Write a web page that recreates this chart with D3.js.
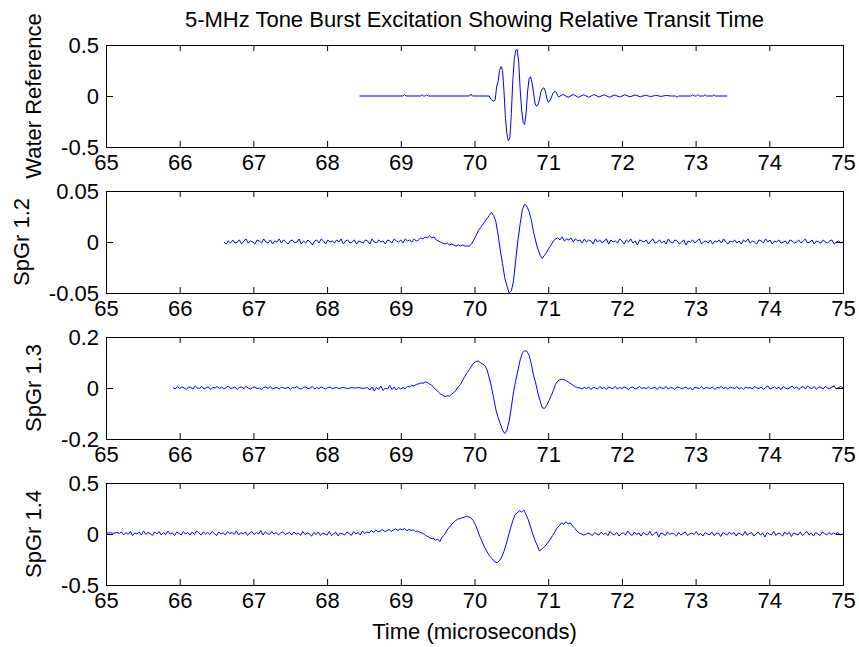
<!DOCTYPE html>
<html lang="en">
  <head>
    <meta charset="UTF-8" />
    <script src="https://d3js.org/d3.v7.min.js"></script>
    <title>5-MHz Tone Burst Excitation Showing Relative Transit Time</title>
    <style type="text/css">
      body { margin: 0; background: #fff; }
      svg { font-family: 'Liberation Sans', Arial, sans-serif; }
    </style>
  </head>
  <body>
    <svg width="859" height="647"></svg>
  </body>
  <script type="text/javascript">
    // ---- data ----
    const chartTitle = '5-MHz Tone Burst Excitation Showing Relative Transit Time';
    const timeLabel = 'Time (microseconds)';
    const timeTicks = [65, 66, 67, 68, 69, 70, 71, 72, 73, 74, 75];
    const panelNames = ['Water Reference', 'SpGr 1.2', 'SpGr 1.3', 'SpGr 1.4'];

    const waterTicks = [-0.5, 0, 0.5];
    const spgr12Ticks = [-0.05, 0, 0.05];
    const spgr13Ticks = [-0.2, 0, 0.2];
    const spgr14Ticks = [-0.5, 0, 0.5];

    // water reference: sparse points, flat apart from the burst
    const waterTime = [
      68.44, 69.03, 69.05, 69.07, 69.27, 69.29, 69.31, 69.33, 69.35, 69.37, 69.93, 69.95, 69.97, 70.20,
      70.22, 70.24, 70.26, 70.28, 70.30, 70.32, 70.34, 70.36, 70.38, 70.40,
      70.42, 70.44, 70.46, 70.48, 70.50, 70.52, 70.54, 70.56, 70.58, 70.60,
      70.62, 70.64, 70.66, 70.68, 70.70, 70.72, 70.74, 70.76, 70.78, 70.80,
      70.82, 70.84, 70.86, 70.88, 70.90, 70.92, 70.94, 70.96, 70.98, 71.00,
      71.02, 71.04, 71.06, 71.08, 71.10, 71.12, 71.14,
      71.20, 71.27, 71.34, 71.41, 71.48, 71.55, 71.62, 71.69, 71.76, 71.83, 71.90, 71.97,
      72.04, 72.11, 72.18, 72.25, 72.32, 72.39, 72.46, 72.53, 72.60, 72.67, 72.73, 72.75, 72.77,
      72.94, 72.96, 72.98, 73.01, 73.03, 73.05, 73.11, 73.13, 73.15, 73.23, 73.25, 73.27, 73.43
    ];
    const waterValue = [
      0, 0, 0.015, 0, 0, 0.012, 0, 0, 0.012, 0, 0, 0.02, 0, 0,
      -0.03, -0.045, -0.05, -0.04, 0.09, 0.14, 0.25, 0.29, 0.25, 0.05,
      -0.22, -0.37, -0.44, -0.41, -0.17, 0.15, 0.36, 0.45, 0.455, 0.33,
      0.06, -0.14, -0.26, -0.28, -0.17, 0.04, 0.17, 0.19, 0.13, 0.04,
      -0.07, -0.1, -0.09, -0.04, 0.04, 0.07, 0.08, 0.05, -0.02, -0.06,
      -0.05, -0.02, 0.02, 0.04, 0.045, 0.02, -0.01,
      0.015, -0.012, 0.015, -0.013, 0.012, -0.012, 0.014, -0.01, 0.012, -0.012, 0.01, -0.01,
      0.012, -0.008, 0.01, -0.008, 0.008, -0.006, 0.006, -0.004, 0.005, 0, 0, -0.012, 0,
      0, 0.012, 0, 0, 0.014, 0, 0, 0.012, 0, 0, 0.012, 0, 0
    ];

    // SpGr 1.2: uniform samples from 66.60 us
    const spgr12Start = 66.6;
    const spgr12Step = 0.03;
    const spgr12Value = [
      0.000, -0.002, 0.001, -0.001, 0.002, -0.001, 0.000, 0.002, -0.002, 0.001,
      0.003, -0.001, 0.001, 0.000, -0.002, 0.002, 0.001, -0.001, 0.003, 0.000,
      -0.001, 0.002, -0.002, 0.001, 0.000, 0.003, -0.001, 0.002, 0.000, -0.002,
      0.001, 0.002, -0.001, 0.000, 0.003, -0.002, 0.001, -0.001, 0.002, 0.000,
      -0.003, 0.001, 0.002, -0.001, 0.003, 0.001, -0.002, 0.002, 0.000, 0.001,
      -0.001, 0.002, 0.000, 0.003, -0.002, 0.001, 0.002, -0.001, 0.000, 0.002,
      -0.002, 0.001, 0.000, -0.001, 0.002, 0.001, -0.002, 0.003, 0.000, -0.001,
      0.002, 0.000, 0.001, -0.002, 0.002, 0.001, -0.001, 0.003, 0.001, 0.000,
      0.002, -0.001, 0.003, 0.001, 0.002, 0.000, 0.003, 0.001, 0.002, 0.004,
      0.003, 0.005, 0.004, 0.006, 0.004, 0.005, 0.002, 0.001, 0.000, -0.001,
      -0.002, -0.001, -0.003, -0.002, -0.003, -0.004, -0.003, -0.004, -0.003, -0.004,
      -0.004, -0.004, -0.002, 0.002, 0.006, 0.011, 0.014, 0.017, 0.020, 0.023,
      0.026, 0.029, 0.026, 0.020, 0.007, -0.008, -0.021, -0.035, -0.043, -0.050,
      -0.048, -0.038, -0.017, 0.002, 0.018, 0.032, 0.037, 0.035, 0.030, 0.022,
      0.010, 0.001, -0.007, -0.013, -0.016, -0.013, -0.010, -0.006, -0.003, 0.001,
      0.003,
      0.004, 0.002, 0.005, 0.001, 0.003, 0.002, 0.004, 0.000, 0.003, 0.001,
      0.002, -0.001, 0.003, 0.000, 0.002, 0.001, -0.002, 0.003, 0.000, 0.002,
      -0.001, 0.001, 0.003, -0.002, 0.002, 0.000, 0.001, -0.001, 0.003, 0.001,
      -0.002, 0.002, 0.000, 0.003, -0.001, 0.001, -0.003, 0.002, 0.001, 0.000,
      0.002, -0.002, 0.001, 0.003, -0.001, 0.000, 0.002, -0.001, 0.001, -0.002,
      0.003, 0.000, -0.001, 0.002, 0.001, -0.002, 0.000, 0.002, -0.003, 0.001,
      0.000, 0.002, -0.001, 0.001, 0.003, -0.002, 0.000, 0.001, -0.001, 0.002,
      -0.002, 0.001, 0.000, 0.002, -0.001, 0.003, 0.000, -0.002, 0.001, 0.000,
      0.002, -0.001, 0.001, -0.002, 0.002, 0.000, 0.003, -0.001, 0.001, 0.000,
      -0.002, 0.002, 0.001, -0.001, 0.003, 0.000, 0.002, -0.002, 0.001, 0.000,
      0.002, -0.001, 0.000, 0.001, -0.002, 0.002, 0.001, -0.001, 0.000, 0.002,
      -0.001, 0.001, 0.003, -0.001, 0.000, 0.002, -0.002, 0.001, 0.000, -0.001,
      0.002, 0.000, -0.001, 0.001, 0.002, -0.002, 0.000, 0.001, -0.001, 0.000
    ];

    // SpGr 1.3: uniform samples from 65.91 us
    const spgr13Start = 65.91;
    const spgr13Step = 0.03;
    const spgr13Value = [
      0.002, -0.004, 0.006, -0.002, 0.004, 0.000, -0.006, 0.004, 0.002, -0.004,
      0.008, 0.000, -0.002, 0.006, -0.004, 0.002, 0.004, -0.006, 0.002, 0.000,
      0.006, -0.002, 0.004, -0.004, 0.002, 0.008, -0.002, 0.000, 0.004, -0.006,
      0.002, 0.004, -0.002, 0.006, 0.000, -0.004, 0.002, 0.004, -0.002, 0.000,
      -0.006, 0.002, 0.004, -0.002, 0.006, -0.004, 0.000, 0.002, -0.004, 0.004,
      0.000, -0.002, 0.004, -0.006, 0.002, 0.000, 0.006, -0.002, -0.004, 0.002,
      0.004, -0.002, 0.000, 0.006, -0.004, 0.002, -0.002, 0.004, 0.000, -0.004,
      0.002, 0.004, -0.002, 0.000, 0.002, -0.002,
      0.000, 0.002, 0.000, -0.002, 0.000, 0.002, 0.000, 0.000, 0.002, 0.000, -0.002, 0.000, 0.002,
      -0.008, 0.004, -0.012, 0.002, -0.006, 0.008, -0.010, 0.000, -0.004, 0.010, -0.006, 0.004, -0.008, 0.002,
      -0.004, 0.002, -0.003, 0.006, 0.004, 0.010, 0.008, 0.014, 0.016, 0.020,
      0.018, 0.024, 0.022, 0.016, 0.010, 0.002, -0.008, -0.016, -0.024, -0.028,
      -0.034, -0.030, -0.032, -0.024, -0.018, -0.008, 0.004, 0.014, 0.030, 0.046,
      0.060, 0.072, 0.086, 0.098, 0.104, 0.106, 0.100, 0.094, 0.088, 0.072,
      0.040, 0.005, -0.040, -0.085, -0.115, -0.140, -0.165, -0.178, -0.165, -0.130,
      -0.075, -0.015, 0.030, 0.070, 0.110, 0.138, 0.146, 0.144, 0.130, 0.095,
      0.050, 0.020, -0.020, -0.050, -0.078, -0.080, -0.068, -0.050, -0.030, -0.010,
      0.015, 0.028, 0.032, 0.034, 0.032, 0.028, 0.022, 0.016, 0.010, 0.004,
      0.002,
      0.000, -0.004, 0.002, -0.002, 0.004, -0.006, 0.002, 0.000, -0.004, 0.006,
      -0.002, 0.002, -0.006, 0.004, 0.000, -0.002, 0.006, -0.004, 0.002, -0.002,
      0.004, 0.000, -0.006, 0.002, 0.004, -0.004, 0.000, 0.006, -0.002, 0.002,
      -0.004, 0.004, -0.002, 0.000, 0.002, -0.006, 0.004, 0.000, -0.002, 0.006,
      -0.004, 0.002, 0.000, -0.006, 0.004, 0.002, -0.002, 0.000, 0.004, -0.004,
      0.002, -0.008, 0.004, 0.000, -0.002, 0.006, -0.004, 0.002, 0.000, -0.002,
      0.004, -0.006, 0.002, 0.000, 0.006, -0.002, 0.002, -0.004, 0.004, 0.000,
      -0.002, 0.006, -0.004, 0.002, -0.006, 0.004, 0.000, 0.002, -0.004, 0.006,
      0.000, -0.002, 0.004, -0.006, 0.002, 0.008, -0.004, 0.000, 0.004, -0.002,
      0.002, -0.006, 0.006, 0.000, -0.004, 0.002, 0.008, -0.002, 0.004, -0.006,
      0.002, 0.006, -0.004, 0.008, 0.000, -0.002, 0.006, -0.006, 0.004, 0.002,
      -0.004, 0.006, 0.000, -0.002, 0.004, 0.008, -0.004, 0.002, 0.006, 0.000
    ];

    // SpGr 1.4: uniform samples from 65.00 us
    const spgr14Start = 65.0;
    const spgr14Step = 0.03;
    const spgr14Value = [
      0.010, 0.010, 0.012, 0.008, 0.010, 0.015, 0.005, 0.020, -0.010, 0.015,
      -0.005, 0.025, -0.015, 0.010, 0.000, 0.020, -0.010, 0.030, -0.005, 0.015,
      0.005, -0.015, 0.020, 0.000, 0.025, -0.010, 0.015, -0.005, 0.030, 0.000,
      0.010, -0.015, 0.020, 0.005, -0.010, 0.025, 0.000, 0.015, -0.010, 0.020,
      -0.005, 0.030, 0.010, -0.010, 0.020, 0.000, 0.015, -0.005, 0.025, 0.005,
      -0.015, 0.020, 0.000, 0.010, -0.010, 0.025, 0.005, 0.015, -0.005, 0.030,
      -0.010, 0.015, 0.000, 0.020, -0.015, 0.010, 0.025, -0.005, 0.015, 0.000,
      0.035, -0.010, 0.020, 0.005, -0.005, 0.025, 0.000, 0.015, -0.010, 0.010,
      0.020, -0.005, 0.005, 0.015, -0.010, 0.020, 0.000, 0.010, -0.015, 0.025,
      -0.005, 0.010, 0.000, -0.020, 0.015, -0.005, 0.020, -0.015, 0.010, 0.000,
      -0.010, 0.025, -0.015, 0.005, 0.015, -0.020, 0.010, 0.000, -0.010, 0.020,
      0.005, -0.015, 0.025, 0.000, 0.015, -0.010, 0.030, 0.005, 0.020, 0.010,
      0.035, 0.015, 0.040, 0.020, 0.030, 0.045, 0.025,
      0.030, 0.045, 0.025, 0.040, 0.050, 0.035, 0.050, 0.040, 0.055, 0.030,
      0.045, 0.035, 0.040, 0.025, 0.030, 0.015, 0.010, -0.005, -0.020, -0.030,
      -0.045, -0.040, -0.060, -0.050, -0.075, -0.030, -0.010, 0.030, 0.060, 0.085,
      0.110, 0.130, 0.145, 0.150, 0.160, 0.165, 0.172, 0.168, 0.160, 0.135,
      0.095, 0.040, -0.020, -0.070, -0.120, -0.160, -0.200, -0.230, -0.250, -0.275,
      -0.280, -0.260, -0.225, -0.170, -0.100, -0.020, 0.060, 0.130, 0.190, 0.205,
      0.230, 0.215, 0.235, 0.190, 0.140, 0.070, 0.000, -0.060, -0.110, -0.165,
      -0.150, -0.130, -0.110, -0.080, -0.050, -0.015, 0.020, 0.060, 0.080, 0.110,
      0.095, 0.120, 0.100, 0.110, 0.080, 0.055, 0.030, 0.010, 0.000, -0.010,
      -0.005, 0.010, 0.000, -0.015, 0.015, 0.000, -0.010, 0.020, -0.005, 0.010,
      -0.015, 0.025, 0.000, -0.010, 0.015, -0.020, 0.005, 0.010, -0.010, 0.030,
      0.000, -0.015, 0.020, -0.005, 0.010, -0.020, 0.015, 0.000, -0.010, 0.025,
      -0.015, 0.005, 0.020, -0.030, 0.010, 0.000, -0.015, 0.020, -0.005, 0.010,
      0.000, -0.020, 0.015, -0.010, 0.005, 0.020, -0.015, 0.000, 0.010, -0.005,
      0.025, -0.010, 0.005, -0.020, 0.015, 0.000, -0.010, 0.020, -0.015, 0.005,
      0.010, -0.025, 0.015, 0.000, -0.010, 0.020, -0.005, 0.015, -0.020, 0.010,
      0.000, -0.015, 0.025, -0.010, 0.005, 0.015, -0.020, 0.000, 0.020, -0.010,
      0.010, -0.030, 0.015, 0.000, -0.010, 0.025, -0.015, 0.010, 0.000, -0.020,
      0.020, -0.005, 0.015, -0.025, 0.010, 0.000, -0.010, 0.020, -0.015, 0.005,
      0.025, -0.010, 0.010, -0.020, 0.015, 0.000, -0.015, 0.020, 0.005, -0.010,
      0.015, -0.005, 0.010, 0.000, 0.015, -0.010, 0.005
    ];

    //---

    const sampleTimes = (start, step, values) => values.map((_, i) => start + i * step);

    const panels = [
      { name: panelNames[0], ticks: waterTicks, time: waterTime, value: waterValue },
      { name: panelNames[1], ticks: spgr12Ticks, time: sampleTimes(spgr12Start, spgr12Step, spgr12Value), value: spgr12Value },
      { name: panelNames[2], ticks: spgr13Ticks, time: sampleTimes(spgr13Start, spgr13Step, spgr13Value), value: spgr13Value },
      { name: panelNames[3], ticks: spgr14Ticks, time: sampleTimes(spgr14Start, spgr14Step, spgr14Value), value: spgr14Value },
    ];

    // setup svg canvas
    const svg = d3.select('svg');
    const fontSize = 22;
    const left = 106;
    const right = 843;
    const firstTop = 45;
    const pitch = 146;
    const panelHeight = 102;

    const xScale = d3.scaleLinear().domain(d3.extent(timeTicks)).range([left, right]);

    const styleAxis = (sel) => {
      sel.attr('font-size', fontSize).attr('font-family', null);
      sel.select('.domain').remove();
    };

    panels.forEach((p, k) => {
      const top = firstTop + k * pitch;
      const bottom = top + panelHeight;
      const yScale = d3.scaleLinear().domain(d3.extent(p.ticks)).range([bottom, top]);
      const g = svg.append('g');

      g.append('clipPath')
        .attr('id', 'clip' + k)
        .append('rect')
        .attr('x', left)
        .attr('y', top)
        .attr('width', right - left + 1)
        .attr('height', panelHeight + 1);

      // the trace
      g.append('path')
        .datum(d3.zip(p.time, p.value))
        .attr('clip-path', `url(#clip${k})`)
        .attr('fill', 'none')
        .attr('stroke', '#0000ff')
        .attr('stroke-width', 1)
        .attr('d', d3.line().x((d) => xScale(d[0])).y((d) => yScale(d[1])));

      // box
      g.append('rect')
        .attr('x', left + 0.5)
        .attr('y', top + 0.5)
        .attr('width', right - left)
        .attr('height', panelHeight)
        .attr('fill', 'none')
        .attr('stroke', '#000');

      // ticks point inward on all four sides
      g.append('g')
        .attr('transform', `translate(0,${bottom})`)
        .call(d3.axisBottom(xScale).tickValues(timeTicks).tickSizeInner(-6).tickSizeOuter(0).tickPadding(7).tickFormat((d) => d))
        .call(styleAxis);
      g.append('g')
        .attr('transform', `translate(0,${top})`)
        .call(d3.axisTop(xScale).tickValues(timeTicks).tickSizeInner(-6).tickSizeOuter(0).tickFormat(''))
        .call(styleAxis);
      const yAxis = g.append('g')
        .attr('transform', `translate(${left},0)`)
        .call(d3.axisLeft(yScale).tickValues(p.ticks).tickSizeInner(-7).tickSizeOuter(0).tickPadding(7).tickFormat((d) => String(d)))
        .call(styleAxis);
      g.append('g')
        .attr('transform', `translate(${right},0)`)
        .call(d3.axisRight(yScale).tickValues(p.ticks).tickSizeInner(-7).tickSizeOuter(0).tickFormat(''))
        .call(styleAxis);

      // y label sits just left of the widest tick label
      const labelEdge = left + yAxis.node().getBBox().x;
      g.append('text')
        .attr('transform', `translate(${labelEdge - 20},${(top + bottom) / 2}) rotate(-90)`)
        .attr('text-anchor', 'middle')
        .attr('font-size', fontSize)
        .text(p.name);
    });

    // title and x label
    svg.append('text')
      .attr('x', (left + right) / 2)
      .attr('y', 27)
      .attr('text-anchor', 'middle')
      .attr('font-size', fontSize)
      .text(chartTitle);

    svg.append('text')
      .attr('x', (left + right) / 2)
      .attr('y', 639)
      .attr('text-anchor', 'middle')
      .attr('font-size', fontSize)
      .text(timeLabel);
  </script>
</html>
